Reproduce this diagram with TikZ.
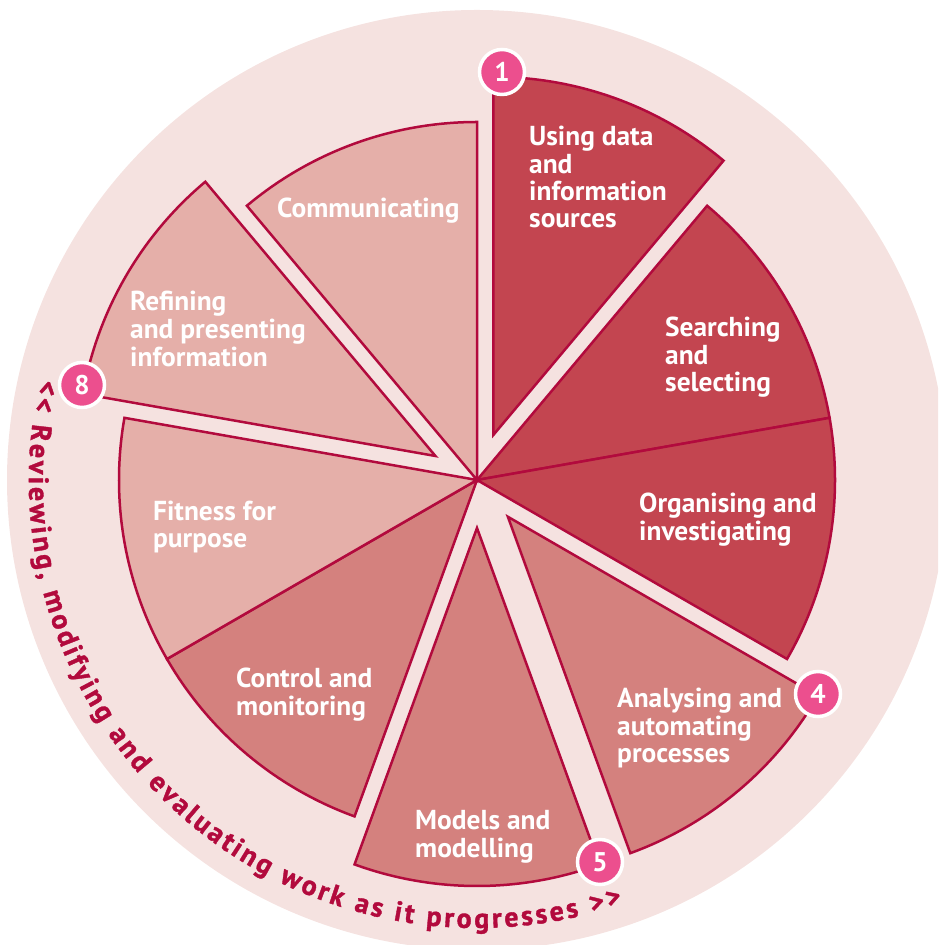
\documentclass[tikz,border=0pt]{standalone}
\usepackage{fontspec}
\setmainfont{PT Sans}
\newfontfamily\curvefam{PT Sans Bold}[FakeBold=1.3]
\usetikzlibrary{decorations.text}
\definecolor{bgc}{HTML}{F5E2E0}
\definecolor{darkc}{HTML}{C34550}
\definecolor{midc}{HTML}{D4817E}
\definecolor{lightc}{HTML}{E5AFA9}
\definecolor{edgec}{HTML}{B20A3D}
\definecolor{pinkc}{HTML}{EC4F8E}
\newcommand\stk[1]{\begin{tabular}[t]{@{}l@{}}#1\end{tabular}}
\newcommand\curvefont{\curvefam\fontsize{28}{28}\selectfont}
\newcommand\mkslice[4]{%
  \draw[slicest, fill=#1, shift={(C)}, shift={({(#2+#3)/2}:#4)}] (0,0) -- (#2:358pt)
    arc[start angle=#2, end angle=#3, radius=358pt] -- cycle;}
\begin{document}
\begin{tikzpicture}[x=1pt,y=1pt,
  slicest/.style={draw=edgec, line width=2.5pt, line join=miter},
  lab/.style={anchor=base west, inner sep=0pt, text=white,
    font=\bfseries\fontsize{27.4}{27}\selectfont},
  num/.style={circle, fill=pinkc, draw=white, line width=3.5pt,
    minimum size=45pt, inner sep=0pt, text=white,
    font=\bfseries\fontsize{27}{27}\selectfont}]
\useasboundingbox (0,0) rectangle (938,945);
\clip (0,0) rectangle (938,945);
\coordinate (C) at (477,465);
\fill[bgc] (C) circle[radius=470pt];
% slices
\mkslice{darkc}{50}{90}{48pt}
\mkslice{darkc}{10}{50}{0pt}
\mkslice{darkc}{-30}{10}{0pt}
\mkslice{midc}{-70}{-30}{48pt}
\mkslice{midc}{-110}{-70}{48pt}
\mkslice{midc}{-150}{-110}{0pt}
\mkslice{lightc}{170}{210}{0pt}
\mkslice{lightc}{130}{170}{48pt}
\mkslice{lightc}{90}{130}{0pt}
% labels
\node[lab] (t1) at (529,799) {\stk{Using data\\and\\information\\sources}};
\node[lab] (t2) at (665,608) {\stk{Searching\\and\\selecting}};
\node[lab] (t3) at (639,432) {\stk{Organising and\\investigating}};
\node[lab] (t4) at (617,237) {\stk{Analysing and\\automating\\processes}};
\node[lab] (t5) at (415,115) {\stk{Models and\\modelling}};
\node[lab] (t6) at (236,257) {\stk{Control and\\monitoring}};
\node[lab] (t7) at (153,424) {\stk{Fitness for\\purpose}};
\node[lab] (t8) at (130,634) {\stk{Refining\\and presenting\\information}};
\node[lab] (t9) at (277,727) {Communicating};
% curved text
\path[font=\curvefont, decorate, decoration={text along path,
  text={|\curvefont|<< Reviewing, modifying and evaluating work as it progresses >>},
  text color=edgec, text align=fit to path}]
  (C) ++(167:448pt) arc[start angle=167, end angle=289, radius=448pt];
% numbers
\node[num] (n1) at (502,873) {1};
\node[num] (n8) at (82,560) {8};
\node[num] (n4) at (818,251) {4};
\node[num] (n5) at (600,83) {5};
\end{tikzpicture}
\end{document}
